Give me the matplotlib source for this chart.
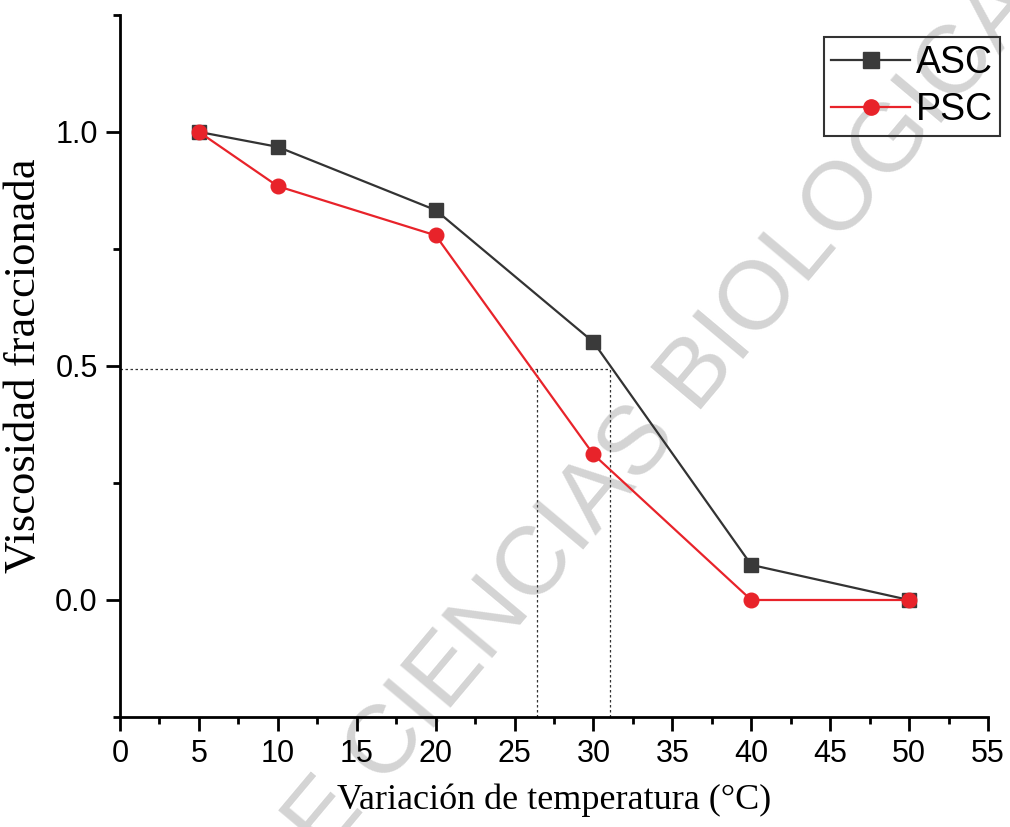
import matplotlib
matplotlib.use("Agg")
import matplotlib.pyplot as plt
from matplotlib.ticker import MultipleLocator, FormatStrFormatter

temps = [5, 10, 20, 30, 40, 50]
asc = [1.0, 0.968, 0.833, 0.551, 0.075, 0.0]
psc = [1.0, 0.884, 0.779, 0.311, 0.0, 0.0]
half_y = 0.494
tm_psc = 26.4
tm_asc = 31.05

fig = plt.figure(figsize=(10.10, 8.27), dpi=100)
ax = fig.add_axes([0.1188, 0.133, 0.8594, 0.849])

# watermark (behind the data)
ax.text(0.655, 0.495, "DE CIENCIAS BIOLOGICAS", rotation=50, fontsize=70,
        family="Liberation Sans", color="#d4d4d4", ha="center", va="center",
        zorder=1, rotation_mode="anchor", transform=fig.transFigure, clip_on=False)

ax.set_xlim(0, 55)
ax.set_ylim(-0.25, 1.25)
ax.patch.set_alpha(0)

dot = (0, (2, 2))
ax.plot([0, tm_asc], [half_y, half_y], ls=dot, color="#333333", lw=0.9, zorder=2)
ax.plot([tm_psc, tm_psc], [-0.25, half_y], ls=dot, color="#333333", lw=0.9, zorder=2)
ax.plot([tm_asc, tm_asc], [-0.25, half_y], ls=dot, color="#333333", lw=0.9, zorder=2)

ax.plot(temps, asc, color="#333333", lw=1.6, marker="s", ms=10, mfc="#3a3a3a",
        mec="#3a3a3a", label="ASC", zorder=3)
ax.plot(temps, psc, color="#e8232a", lw=1.6, marker="o", ms=10.5, mfc="#e8232a",
        mec="#e8232a", label="PSC", zorder=4)

for s in ["top", "right"]:
    ax.spines[s].set_visible(False)
for s in ["left", "bottom"]:
    ax.spines[s].set_linewidth(2)

ax.xaxis.set_major_locator(MultipleLocator(5))
ax.xaxis.set_minor_locator(MultipleLocator(2.5))
ax.set_yticks([0.0, 0.5, 1.0])
ax.yaxis.set_minor_locator(MultipleLocator(0.25))
ax.yaxis.set_major_formatter(FormatStrFormatter("%.1f"))
ax.tick_params(which="major", direction="out", length=10, width=2,
               labelsize=22, pad=6)
ax.tick_params(which="minor", direction="out", length=5, width=2)
for lab in ax.get_xticklabels() + ax.get_yticklabels():
    lab.set_family("Liberation Sans")

ax.set_xlabel("Variación de temperatura (°C)", family="Liberation Serif",
              fontsize=26, labelpad=10)
ax.set_ylabel("Viscosidad fraccionada", family="Liberation Serif",
              fontsize=32, labelpad=8)

leg = ax.legend(loc="upper right", bbox_to_anchor=(1.014, 0.968), frameon=True,
                fancybox=False,
                prop={"family": "Liberation Sans", "size": 27},
                handlelength=2.1, handletextpad=0.15, borderpad=0.2,
                labelspacing=0.3, borderaxespad=0.0)
frame = leg.get_frame()
frame.set_alpha(None)
frame.set_facecolor((1, 1, 1, 0))
frame.set_edgecolor("#333333")
frame.set_linewidth(1.5)
leg.set_zorder(5)
for h in leg.legend_handles:
    h.set_markersize(11)

fig.savefig("out.png", dpi=100)
